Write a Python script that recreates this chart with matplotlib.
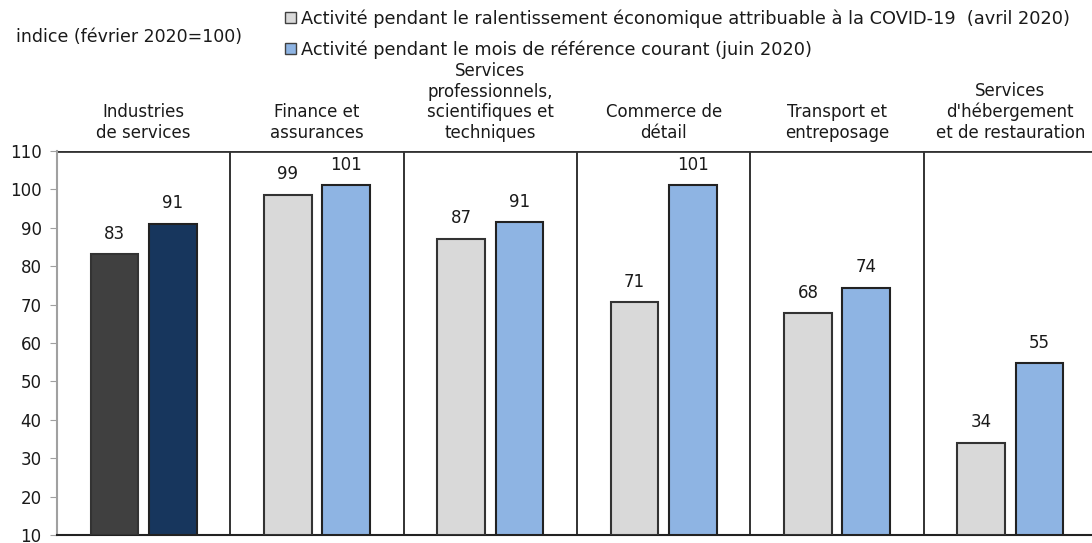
import matplotlib.pyplot as plt
import matplotlib.patches as mpatches
import numpy as np

# Catégories et valeurs (indice février 2020 = 100)
categories = ["Industries\nde services", "Finance et\nassurances",
              "Services\nprofessionnels,\nscientifiques et\ntechniques",
              "Commerce de\ndétail", "Transport et\nentreposage",
              "Services\nd'hébergement\net de restauration"]
avril = [83.1, 98.6, 87.2, 70.6, 67.8, 34.0]
juin = [91.1, 101.1, 91.4, 101.1, 74.4, 54.7]

lab_avril = "Activité pendant le ralentissement économique attribuable à la COVID-19  (avril 2020)"
lab_juin = "Activité pendant le mois de référence courant (juin 2020)"

gris, bleu = "#d9d9d9", "#8eb4e3"
gris_fonce, marine = "#404040", "#17365d"
txt = "#1a1a1a"
fs = 12

fig = plt.figure(figsize=(10.92, 5.43), dpi=100)
W, H = 1092, 543
ax = fig.add_axes([57 / W, 8 / H, (1097 - 57) / W, (535 - 151) / H])

x = np.arange(len(categories))
bw = 0.275
off = 0.168
c1 = [gris_fonce] + [gris] * (len(categories) - 1)
c2 = [marine] + [bleu] * (len(categories) - 1)
ax.bar(x - off, np.array(avril) - 10, bw, bottom=10, color=c1,
       edgecolor="#333333", linewidth=1.5, zorder=3)
ax.bar(x + off, np.array(juin) - 10, bw, bottom=10, color=c2,
       edgecolor="#222222", linewidth=1.5, zorder=3)

for i in range(len(categories)):
    ax.text(x[i] - off, avril[i] + 3, f"{avril[i]:.0f}", ha="center", va="bottom",
            fontsize=fs, color=txt)
    ax.text(x[i] + off, juin[i] + 3, f"{juin[i]:.0f}", ha="center", va="bottom",
            fontsize=fs, color=txt)
    ax.text(x[i], 112.3, categories[i], ha="center", va="bottom", fontsize=fs,
            color=txt, linespacing=1.2)

# séparateurs verticaux
for s in np.arange(0.5, len(categories) - 0.5, 1):
    ax.axvline(s, color="#222222", linewidth=1.3, zorder=2)
ax.axhline(110, color="#333333", linewidth=2, zorder=2)

ax.set_xlim(-0.5, len(categories) - 0.5)
ax.set_ylim(10, 110)
ax.set_yticks(np.arange(10, 111, 10))
ax.set_xticks([])
ax.tick_params(axis="y", length=5, color="#a0a0a0", labelsize=fs,
               labelcolor=txt, pad=6)
ax.spines["top"].set_visible(False)
ax.spines["right"].set_visible(False)
ax.spines["left"].set_color("#a0a0a0")
ax.spines["left"].set_linewidth(1.5)
ax.spines["bottom"].set_color("#222222")
ax.spines["bottom"].set_linewidth(1.5)

fig.text(16 / W, 1 - 37 / H, "indice (février 2020=100)", fontsize=12.5,
         color=txt, va="center", ha="left")

handles = [mpatches.Patch(facecolor=gris, edgecolor="#404040", label=lab_avril),
           mpatches.Patch(facecolor=bleu, edgecolor="#404040", label=lab_juin)]
fig.legend(handles=handles, loc="upper left", bbox_to_anchor=(285 / W, 1 - 9 / H),
           frameon=False, fontsize=12.8, handlelength=0.6, handleheight=0.6,
           handletextpad=0.3, labelspacing=0.72, borderaxespad=0, borderpad=0,
           labelcolor=txt)

fig.savefig("out.png", dpi=100)
